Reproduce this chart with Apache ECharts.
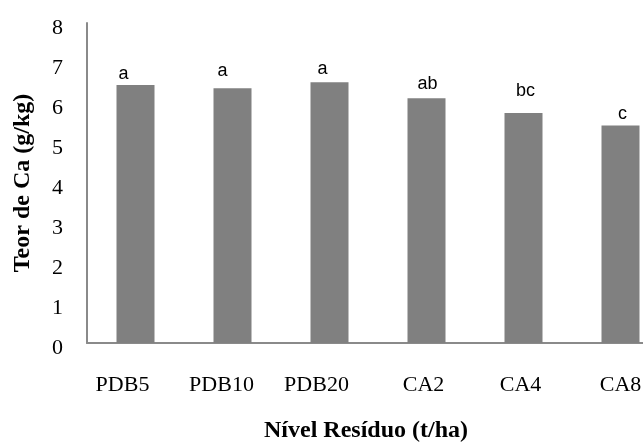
<!DOCTYPE html>
<html>
<head>
<meta charset="utf-8">
<script src="https://cdn.jsdelivr.net/npm/echarts@6/dist/echarts.min.js"></script>
<style>
  html, body { margin: 0; padding: 0; background: #fff; }
  #chart { width: 643px; height: 443px; }
</style>
</head>
<body>
<div id="chart"></div>
<script>
// Calcium content by residue level
const categories = ['PDB5', 'PDB10', 'PDB20', 'CA2', 'CA4', 'CA8'];
const caValues = [6.45, 6.37, 6.52, 6.12, 5.75, 5.44];
const groupLetters = ['a', 'a', 'a', 'ab', 'bc', 'c'];
const yTicks = [0, 1, 2, 3, 4, 5, 6, 7, 8];

// small per-label nudges for the significance letters and category names
const letterNudge = [[-12, 0], [-10, -6], [-7, -2], [1, -3], [2, -11], [2, 0]];
const categoryShiftLeft = [13, 11, 13, 3, 3, 0];

const chart = echarts.init(document.getElementById('chart'), null, { renderer: 'canvas' });

const serif = '"Liberation Serif", "Times New Roman", serif';
const axisGray = '#8a8a8a';

chart.setOption({
  animation: false,
  backgroundColor: '#ffffff',
  // the plot runs a little past the right edge of the canvas
  grid: { left: 87, top: 23, right: -26, bottom: 100, containLabel: false, outerBoundsMode: 'none' },
  xAxis: {
    type: 'category',
    data: categories.map((c, i) => ({
      value: c,
      textStyle: { padding: [0, 2 * categoryShiftLeft[i], 0, 0] }
    })),
    axisLine: { show: true, lineStyle: { color: axisGray, width: 2 } },
    axisTick: { show: false },
    axisLabel: { color: '#000', fontFamily: serif, fontSize: 22, margin: 31 },
    name: 'Nível Resíduo (t/ha)',
    nameLocation: 'middle',
    nameGap: 76,
    nameTextStyle: { color: '#000', fontFamily: serif, fontWeight: 'bold', fontSize: 24, padding: [0, 24, 0, 0] }
  },
  yAxis: {
    type: 'value',
    min: yTicks[0],
    max: yTicks[yTicks.length - 1],
    interval: 1,
    axisLine: { show: true, lineStyle: { color: axisGray, width: 2 } },
    axisTick: { show: false },
    splitLine: { show: false },
    axisLabel: {
      color: '#000', fontFamily: serif, fontSize: 22, margin: 24,
      verticalAlign: 'top', lineHeight: 10
    },
    name: 'Teor de Ca (g/kg)',
    nameLocation: 'middle',
    nameGap: 52,
    nameTextStyle: { color: '#000', fontFamily: serif, fontWeight: 'bold', fontSize: 24 }
  },
  series: [{
    type: 'bar',
    barWidth: 38,
    itemStyle: { color: '#808080' },
    data: caValues.map((v, i) => ({
      value: v,
      label: {
        show: true,
        position: 'top',
        distance: 2,
        offset: letterNudge[i],
        formatter: groupLetters[i],
        color: '#000',
        fontFamily: '"Liberation Sans", Arial, sans-serif',
        fontSize: 18
      }
    }))
  }]
});
</script>
</body>
</html>
